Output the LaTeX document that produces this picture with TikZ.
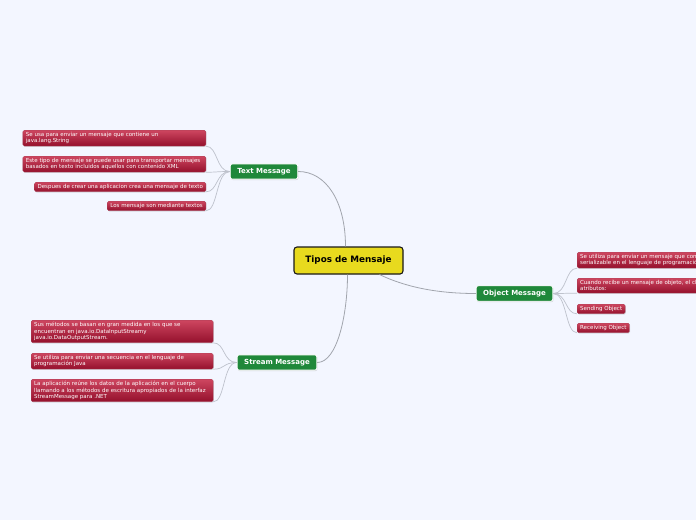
\documentclass[tikz,border=0pt]{standalone}
\usepackage{fontspec}
\setmainfont{DejaVu Sans}
\usetikzlibrary{shadows,calc}
\definecolor{bgc}{RGB}{243,246,255}
\definecolor{leaftop}{RGB}{206,70,96}
\definecolor{leafbot}{RGB}{148,16,44}
\definecolor{greenc}{RGB}{31,136,58}
\definecolor{yellowc}{RGB}{232,218,30}
\definecolor{linec}{RGB}{190,194,204}
\tikzset{
  leaf/.style={rectangle, rounded corners=1.5pt, top color=leaftop, bottom color=leafbot,
    draw=leafbot!80!white, line width=0.3pt, text=white, font=\fontsize{5.5}{6.4}\selectfont,
    align=left, inner xsep=3pt, inner ysep=2.1pt,
    drop shadow={opacity=0.25, shadow xshift=0.6pt, shadow yshift=-0.9pt}},
  wide/.style={text width=#1},
  topic/.style={rectangle, rounded corners=2pt, fill=greenc, draw=white, line width=0.9pt,
    text=white, font=\fontsize{7}{8}\selectfont\bfseries, inner xsep=7pt, inner ysep=4.3pt,
    drop shadow={opacity=0.3, shadow xshift=0.6pt, shadow yshift=-0.9pt}},
  central/.style={rectangle, rounded corners=3pt, fill=yellowc, draw=black!90, line width=1.1pt,
    font=\fontsize{8.8}{10}\selectfont\bfseries, minimum width=109pt, minimum height=27pt},
  conn/.style={draw=linec, line width=0.7pt},
  mainconn/.style={draw=linec!85!black, line width=0.8pt}
}
\begin{document}
\begin{tikzpicture}[x=1pt,y=-1pt]
\useasboundingbox (0,0) rectangle (696,520);
\fill[bgc] (0,0) rectangle (696,520);
\clip (0,0) rectangle (696,520);

\node[central] (c) at (348.5,260.5) {Tipos de Mensaje};
\node[topic] (tm) at (264,171.5) {Text Message};
\node[topic] (sm) at (277,362.5) {Stream Message};
\node[topic] (om) at (514.5,293.5) {Object Message};

% Text Message leaves
\node[leaf, wide=177pt, anchor=north east] (t1) at (206,130) {Se usa para enviar un mensaje que contiene un\\java.lang.String};
\node[leaf, wide=177pt, anchor=north east] (t2) at (206,156) {Este tipo de mensaje se puede usar para transportar mensajes\\basados en texto incluidos aquellos con contenido XML};
\node[leaf, anchor=north east] (t3) at (206,182) {Despues de crear una aplicacion crea una mensaje de texto};
\node[leaf, anchor=north east] (t4) at (206,201) {Los mensaje son mediante textos};

% Stream Message leaves
\node[leaf, wide=176pt, anchor=north west] (s1) at (31,320) {Sus métodos se basan en gran medida en los que se\\encuentran en java.io.DataInputStreamy\\java.io.DataOutputStream.};
\node[leaf, wide=176pt, anchor=north west] (s2) at (31,353) {Se utiliza para enviar una secuencia en el lenguaje de\\programación Java};
\node[leaf, wide=176pt, anchor=north west] (s3) at (31,379) {La aplicación reúne los datos de la aplicación en el cuerpo\\llamando a los métodos de escritura apropiados de la interfaz\\StreamMessage para .NET};

% Object Message leaves
\node[leaf, wide=190pt, anchor=north west] (o1) at (577,252) {Se utiliza para enviar un mensaje que contiene un objeto\\serializable en el lenguaje de programación Java};
\node[leaf, wide=190pt, anchor=north west] (o2) at (577,278) {Cuando recibe un mensaje de objeto, el cliente obtiene sus\\atributos:};
\node[leaf, anchor=north west] (o3) at (577,304) {Sending Object};
\node[leaf, anchor=north west] (o4) at (577,323) {Receiving Object};

% main connectors
\draw[mainconn] (tm.east) .. controls +(28,0) and +(0,-45) .. ($(c.north)+(-3,0)$);
\draw[mainconn] (sm.east) .. controls +(20,0) and +(0,40) .. ($(c.south)+(-1,0)$);
\draw[mainconn] ($(c.south)+(31,0)$) .. controls +(25,12) and +(-40,0) .. (om.west);

% leaf connectors
\foreach \l in {t1,t2,t3,t4}
  \draw[conn] (tm.west) .. controls +(-14,0) and +(12,0) .. (\l.south east);
\foreach \l in {s1,s2,s3}
  \draw[conn] (sm.west) .. controls +(-14,0) and +(12,0) .. (\l.south east);
\foreach \l in {o1,o2,o3,o4}
  \draw[conn] (om.east) .. controls +(14,0) and +(-12,0) .. (\l.south west);
\end{tikzpicture}
\end{document}
